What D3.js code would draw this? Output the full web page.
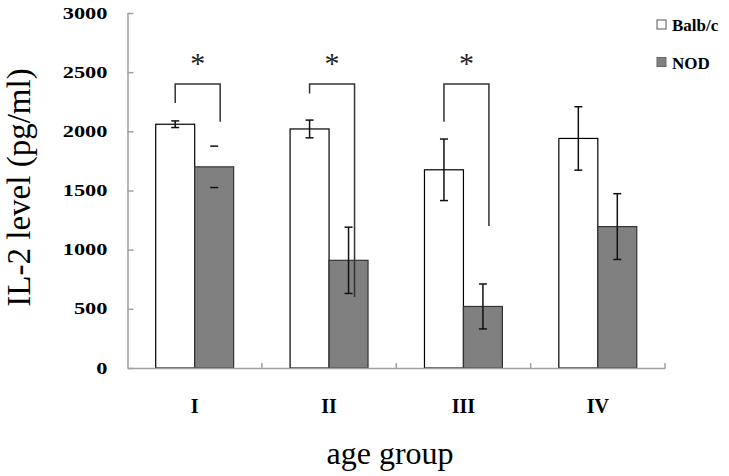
<!DOCTYPE html>
<html>
<head>
<meta charset="utf-8">
<script src="https://cdn.jsdelivr.net/npm/d3@7"></script>
<style>
  html, body { margin: 0; padding: 0; background: #fff; }
  svg { display: block; }
  text { font-family: "Liberation Serif", "Times New Roman", serif; }
</style>
</head>
<body>
<svg id="chart" width="729" height="476"></svg>
<script>
// ---- data ----
const groups = ["I", "II", "III", "IV"];
const seriesNames = ["Balb/c", "NOD"];
const balbValues = [2060, 2020, 1675, 1940];
const balbErrors = [28, 75, 260, 268];
const nodValues = [1700, 910, 520, 1195];
const nodErrors = [175, 280, 190, 278];
const nodStemShown = [false, true, true, true];
const yTicks = [0, 500, 1000, 1500, 2000, 2500, 3000];
// significance brackets: group, bracket top, left leg end, right leg end, star level
const sigGroups = ["I", "II", "III"];
const sigTop = [2400, 2400, 2400];
const sigLeftEnd = [2240, 2320, 2080];
const sigRightEnd = [2080, 600, 1200];
const sigStarLevel = [2600, 2600, 2600];

// ---- layout ----
const svg = d3.select("#chart");
const x0 = 127.5, x1 = 665, yBottom = 368, yTop = 13;
const y = d3.scaleLinear().domain([0, 3000]).range([yBottom, yTop]);
const x = d3.scaleBand().domain(groups).range([x0, x1]).paddingInner(0.42).paddingOuter(0.21);
const xs = d3.scaleBand().domain(seriesNames).range([0, x.bandwidth()]);
const step = x.step();
const fills = { "Balb/c": "#ffffff", "NOD": "#808080" };
const strokes = { "Balb/c": "#000000", "NOD": "#333333" };
const axisColor = "#a0a0a0";

const rows = groups.map((g, i) => ({
  g,
  bars: [
    { s: "Balb/c", v: balbValues[i], e: balbErrors[i], stem: true },
    { s: "NOD", v: nodValues[i], e: nodErrors[i], stem: nodStemShown[i] }
  ]
}));

// bars
const gBars = svg.append("g");
rows.forEach(r => {
  r.bars.forEach(b => {
    gBars.append("rect")
      .attr("x", x(r.g) + xs(b.s))
      .attr("y", y(b.v))
      .attr("width", xs.bandwidth())
      .attr("height", y(0) - y(b.v))
      .attr("fill", fills[b.s])
      .attr("stroke", strokes[b.s])
      .attr("stroke-width", 1.2);
  });
});

// error bars
const gErr = svg.append("g").attr("stroke", "#111").attr("stroke-width", 1.5);
rows.forEach(r => {
  r.bars.forEach(b => {
    const cx = x(r.g) + xs(b.s) + xs.bandwidth() / 2;
    const hi = y(b.v + b.e), lo = y(b.v - b.e);
    if (b.stem) gErr.append("line").attr("x1", cx).attr("x2", cx).attr("y1", hi).attr("y2", lo);
    gErr.append("line").attr("x1", cx - 4).attr("x2", cx + 4).attr("y1", hi).attr("y2", hi);
    gErr.append("line").attr("x1", cx - 4).attr("x2", cx + 4).attr("y1", lo).attr("y2", lo);
  });
});

// y axis
const yAxis = d3.axisLeft(y).tickValues(yTicks).tickSize(-6).tickSizeOuter(0).tickFormat(d3.format("d"));
const gy = svg.append("g").attr("transform", `translate(${x0},0)`).call(yAxis);
gy.select(".domain").attr("stroke", axisColor).attr("stroke-width", 1.5);
gy.selectAll(".tick line").attr("stroke", axisColor).attr("stroke-width", 1.5);
gy.selectAll(".tick text")
  .attr("x", null)
  .attr("transform", "translate(-20,0) scale(1.4,1)")
  .attr("text-anchor", "end")
  .attr("font-family", "'Liberation Serif', 'Times New Roman', serif")
  .attr("font-weight", "bold")
  .attr("font-size", 16)
  .attr("fill", "#000");

// x axis
const xAxis = d3.axisBottom(x).tickSize(0).tickSizeOuter(0);
const gx = svg.append("g").attr("transform", `translate(0,${yBottom})`).call(xAxis);
gx.select(".domain").attr("stroke", axisColor).attr("stroke-width", 1.5);
gx.selectAll(".tick text")
  .attr("y", 44.5)
  .attr("dy", 0)
  .attr("font-family", "'Liberation Serif', 'Times New Roman', serif")
  .attr("font-weight", "bold")
  .attr("font-size", 20)
  .attr("fill", "#000");
// category boundary ticks (pointing up)
groups.forEach(g => {
  const bx = x(g) + x.bandwidth() + (step - x.bandwidth()) / 2;
  svg.append("line")
    .attr("x1", bx).attr("x2", bx)
    .attr("y1", yBottom).attr("y2", yBottom - 5)
    .attr("stroke", axisColor).attr("stroke-width", 1.5);
});

// significance brackets
const gSig = svg.append("g");
sigGroups.forEach((g, i) => {
  const lx = x(g) + xs("Balb/c") + xs.bandwidth() / 2;
  const rx = x(g) + xs("NOD") + xs.bandwidth() / 2 + 6;
  gSig.append("path")
    .attr("d", `M${lx},${y(sigLeftEnd[i])}V${y(sigTop[i])}H${rx}V${y(sigRightEnd[i])}`)
    .attr("fill", "none")
    .attr("stroke", "#333")
    .attr("stroke-width", 1.5);
  gSig.append("text")
    .attr("x", (lx + rx) / 2)
    .attr("y", y(sigStarLevel[i]) + 13)
    .attr("text-anchor", "middle")
    .attr("font-size", 30)
    .attr("fill", "#222")
    .text("*");
});

// legend
const legendY = [20, 57.5];
seriesNames.forEach((s, i) => {
  svg.append("rect")
    .attr("x", 657).attr("y", legendY[i])
    .attr("width", 9).attr("height", 9)
    .attr("fill", fills[s])
    .attr("stroke", s === "NOD" ? "#666" : "#555")
    .attr("stroke-width", 1);
  svg.append("text")
    .attr("x", 672).attr("y", legendY[i] + 11)
    .attr("font-size", 17)
    .attr("font-weight", "bold")
    .attr("fill", "#000")
    .text(s);
});

// axis titles
svg.append("text")
  .attr("transform", "translate(30,187.5) rotate(-90)")
  .attr("text-anchor", "middle")
  .attr("font-size", 33)
  .attr("fill", "#000")
  .text("IL-2 level (pg/ml)");

svg.append("text")
  .attr("x", 390)
  .attr("y", 464)
  .attr("text-anchor", "middle")
  .attr("font-size", 32)
  .attr("fill", "#000")
  .text("age group");
</script>
</body>
</html>
